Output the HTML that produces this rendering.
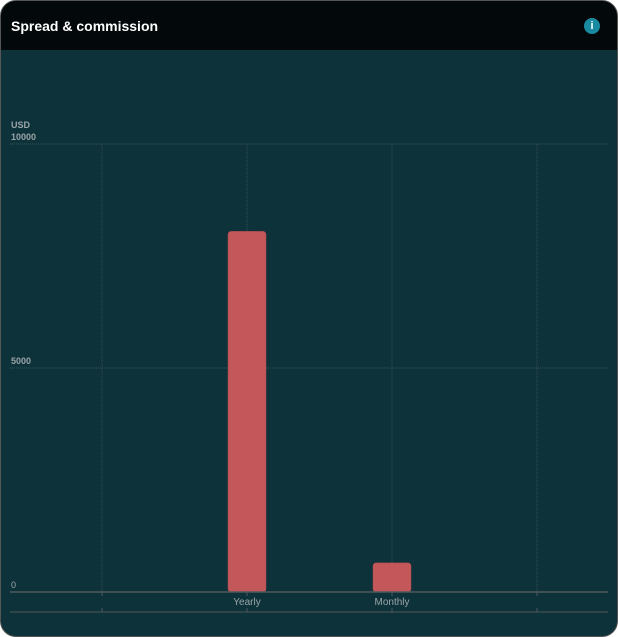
<!DOCTYPE html>
<html><head><meta charset="utf-8"><style>
body{margin:0;background:#fff;width:618px;height:637px;overflow:hidden;font-family:"Liberation Sans",sans-serif}
.card{position:absolute;left:0;top:0;width:616px;height:635px;border:1px solid #555;border-radius:16px;overflow:hidden;background:#0e323a}
.hdr{height:49px;background:#03080a;position:relative}
.hdr h1{margin:0;position:absolute;left:10px;top:17px;font-size:14px;font-weight:bold;color:#fff}
.info{position:absolute;left:583px;top:17px;width:16px;height:16px;border-radius:50%;background:#1a8aa0;color:#fff;font-size:11px;font-weight:bold;text-align:center;line-height:16px}
</style></head><body>
<div class="card">
<div class="hdr"><h1>Spread &amp; commission</h1><div class="info">i</div></div>
<svg id="chart" width="618" height="637" style="position:absolute;left:-1px;top:-1px"></svg>
</div>
<script>
const categories=["Yearly","Monthly"];
const values=[8050,650];
const yTicks=[0,5000,10000];
const NS="http://www.w3.org/2000/svg",svg=document.getElementById('chart');
const y0=592,yTop=144,yMax=10000;
const y=v=>y0-(y0-yTop)*v/yMax;
const x=i=>247+i*145;
function el(t,a,n){const e=document.createElementNS(NS,t);for(const k in a)e.setAttribute(k,a[k]);svg.appendChild(e);return e;}
let t=el('text',{x:11,y:128,fill:'#9aa5a8','font-size':9,'font-weight':'bold'});t.textContent='USD';


yTicks.forEach(v=>{
 if(v>0){const l=el('line',{x1:10,x2:608,y1:y(v),y2:y(v),stroke:'#3a5459','stroke-dasharray':'1,1'});
 
 }
 const tx=el('text',{x:11,y:y(v)-4,fill:'#9aa5a8','font-size':9,'font-weight':v===0?'normal':'bold'});tx.textContent=v;
 
 
});
for(let k=-1;k<=categories.length;k++){
 const gx=x(k);
 const g=el('line',{x1:gx,x2:gx,y1:yTop,y2:y0,stroke:'#344e53','stroke-dasharray':'1,1'});
 
 
 el('line',{x1:gx,x2:gx,y1:y0,y2:y0+4,stroke:'#4f5a5c'});
 el('line',{x1:gx,x2:gx,y1:608,y2:612,stroke:'#4f5a5c'});
}
categories.forEach((c,i)=>{
 const b=el('rect',{x:x(i)-19,y:y(values[i]),width:38,height:y0-y(values[i]),rx:3,fill:'#c4575a',stroke:'#a84a4d','stroke-width':0.5});
 
 
 const l=el('text',{x:x(i),y:605,fill:'#9aa5a8','font-size':10,'text-anchor':'middle'});l.textContent=c;
 
 
});
const ax=el('line',{x1:10,x2:608,y1:y0,y2:y0,stroke:'#4f5a5c','stroke-width':1.5});


const ax2=el('line',{x1:10,x2:608,y1:612,y2:612,stroke:'#4f5a5c','stroke-width':1});


</script>
</body></html>
